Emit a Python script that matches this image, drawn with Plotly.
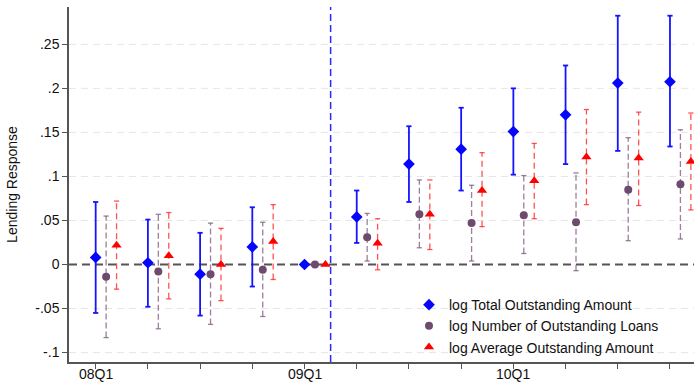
import plotly.graph_objects as go

quarters = ["08Q1", "08Q2", "08Q3", "08Q4", "09Q1", "09Q2", "09Q3", "09Q4",
            "10Q1", "10Q2", "10Q3", "10Q4"]
shown_labels = ["08Q1", "09Q1", "10Q1"]

total = [0.008, 0.002, -0.011, 0.020, 0.0, 0.054, 0.114, 0.131, 0.151, 0.170, 0.206, 0.2075]
total_lo = [-0.055, -0.048, -0.058, -0.025, 0.0, 0.0245, 0.071, 0.084, 0.102, 0.114, 0.129, 0.134]
total_hi = [0.071, 0.051, 0.036, 0.065, 0.0, 0.084, 0.157, 0.178, 0.200, 0.226, 0.2825, 0.2825]

number = [-0.014, -0.008, -0.011, -0.006, 0.0, 0.031, 0.057, 0.047, 0.056, 0.048, 0.085, 0.091]
number_lo = [-0.083, -0.073, -0.068, -0.059, 0.0, 0.004, 0.019, 0.004, 0.0125, -0.007, 0.027, 0.029]
number_hi = [0.055, 0.057, 0.047, 0.048, 0.0, 0.058, 0.096, 0.090, 0.101, 0.104, 0.144, 0.153]

avg = [0.022, 0.010, 0.0, 0.026, 0.0, 0.024, 0.057, 0.084, 0.095, 0.122, 0.121, 0.117]
avg_lo = [-0.028, -0.039, -0.041, -0.017, 0.0, -0.006, 0.017, 0.043, 0.052, 0.068, 0.067, 0.062]
avg_hi = [0.072, 0.059, 0.041, 0.068, 0.0, 0.052, 0.096, 0.127, 0.1375, 0.176, 0.173, 0.172]

ytick_vals = [-0.1, -0.05, 0, 0.05, 0.1, 0.15, 0.2, 0.25]
ytick_text = ["-.1", "-.05", "0", ".05", ".1", ".15", ".2", ".25"]

series = [
    dict(name="log Total Outstanding Amount", y=total, lo=total_lo, hi=total_hi, off=0.0,
         color="#0505ff", ci_color="#1414ff", dash="solid", width=1.8,
         symbol="diamond", size=9),
    dict(name="log Number of Outstanding Loans", y=number, lo=number_lo, hi=number_hi, off=0.2,
         color="#6e4a6e", ci_color="rgba(120,85,120,0.75)", dash="6px,3px", width=1.3,
         symbol="circle", size=8),
    dict(name="log Average Outstanding Amount", y=avg, lo=avg_lo, hi=avg_hi, off=0.4,
         color="#ff0000", ci_color="rgba(255,40,40,0.8)", dash="6px,4px", width=1.3,
         symbol="triangle-up", size=9),
]

FONT = "Liberation Sans, Arial, Helvetica, sans-serif"
fig = go.Figure()

# light dashed gridlines at non-zero ticks
for v in ytick_vals:
    if v == 0:
        continue
    fig.add_shape(type="line", xref="paper", x0=0, x1=1, yref="y", y0=v, y1=v,
                  line=dict(color="#e6e6e6", width=1, dash="7px,5px"), layer="below")

fig.add_shape(type="line", xref="paper", x0=0, x1=1, yref="y", y0=0, y1=0,
              line=dict(color="#555555", width=2, dash="8px,5px"), layer="between")
fig.add_shape(type="line", xref="x", x0=4.5, x1=4.5, yref="paper", y0=0, y1=1,
              line=dict(color="#2a2aff", width=1.5, dash="7px,4px"), layer="between")

cap = 0.05
for s in series:
    xs = [i + s["off"] for i in range(len(quarters))]
    vx, vy, cx, cy = [], [], [], []
    for x, lo, hi in zip(xs, s["lo"], s["hi"]):
        if hi == lo:
            continue
        vx += [x, x, None]
        vy += [lo, hi, None]
        cx += [x - cap, x + cap, None, x - cap, x + cap, None]
        cy += [lo, lo, None, hi, hi, None]
    fig.add_trace(go.Scatter(x=vx, y=vy, mode="lines", showlegend=False, hoverinfo="skip",
                             line=dict(color=s["ci_color"], width=s["width"], dash=s["dash"])))
    fig.add_trace(go.Scatter(x=cx, y=cy, mode="lines", showlegend=False, hoverinfo="skip",
                             line=dict(color=s["ci_color"], width=s["width"])))

for s in series:
    xs = [i + s["off"] for i in range(len(quarters))]
    fig.add_trace(go.Scatter(x=xs, y=s["y"], mode="markers", name=s["name"],
                             marker=dict(symbol=s["symbol"], size=s["size"], color=s["color"],
                                         line=dict(width=0))))

# x tick labels as annotations (placed a bit closer to the axis)
for i, q in enumerate(quarters):
    if q in shown_labels:
        fig.add_annotation(x=i, xref="x", y=0, yref="paper", yanchor="top",
                           text=q, showarrow=False, yshift=-3, borderpad=0,
                           font=dict(family=FONT, size=14, color="#111111"))

fig.update_layout(
    width=694, height=385,
    margin=dict(l=69, r=0, t=7, b=23),
    plot_bgcolor="white", paper_bgcolor="white",
    font=dict(family=FONT, size=14, color="#111111"),
    legend=dict(x=0.544, y=-0.003, xanchor="left", yanchor="bottom",
                bgcolor="rgba(255,255,255,0)", font=dict(size=14),
                tracegroupgap=0, itemwidth=30),
    showlegend=True,
)

fig.update_xaxes(
    range=[-0.511, 11.46],
    tickvals=list(range(len(quarters))),
    ticktext=["" for q in quarters],
    ticks="outside", ticklen=5, tickcolor="#555555", tickwidth=1,
    showline=True, linecolor="#555555", linewidth=1.5,
    showgrid=False, zeroline=False,
    automargin=False,
)
fig.update_yaxes(
    range=[-0.1107, 0.2924],
    tickvals=ytick_vals, ticktext=ytick_text,
    ticks="outside", ticklen=5, tickcolor="#555555", tickwidth=1,
    showline=True, linecolor="#555555", linewidth=1.5,
    showgrid=False, zeroline=False,
    title=dict(text="Lending Response", font=dict(size=14), standoff=14),
    tickfont=dict(size=14),
    automargin=False,
)

fig.write_html("out.html", config={"displayModeBar": False},
               post_script="document.body.style.margin='0px';")
